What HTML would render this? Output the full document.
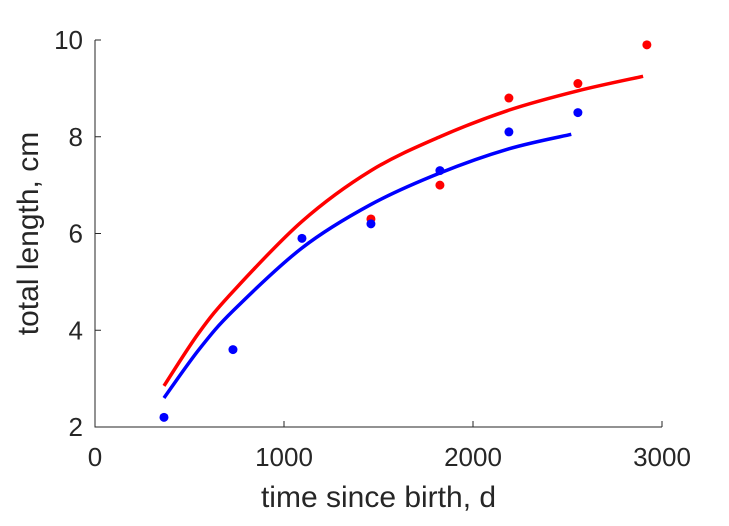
<!DOCTYPE html>
<html><head><meta charset="utf-8"><style>
body{margin:0;background:#fff;}
svg text{font-family:"Liberation Sans",sans-serif;fill:#262626;}
</style></head><body>
<svg id="chart" width="729" height="521" viewBox="0 0 729 521" xmlns="http://www.w3.org/2000/svg"></svg>
<script>
const xTicks=[0,1000,2000,3000];
const yTicks=[2,4,6,8,10];
const redPtsX=[1460,1825,2190,2555,2920];
const redPtsY=[6.3,7.0,8.8,9.1,9.9];
const bluePtsX=[365,730,1095,1460,1825,2190,2555];
const bluePtsY=[2.2,3.6,5.9,6.2,7.3,8.1,8.5];
const redCurveX=[365,550,730,1095,1460,1825,2190,2555,2900];
const redCurveY=[2.85,3.95,4.8,6.25,7.3,8.0,8.55,8.95,9.25];
const blueCurveX=[365,550,730,1095,1460,1825,2190,2520];
const blueCurveY=[2.6,3.6,4.4,5.7,6.6,7.25,7.75,8.05];

const NS="http://www.w3.org/2000/svg";
const svg=document.getElementById('chart');
const X0=95,X1=662,Y0=427,Y1=40;
const sx=v=>X0+(v-0)/3000*(X1-X0);
const sy=v=>Y0-(v-2)/8*(Y0-Y1);
function mk(t,a){const e=document.createElementNS(NS,t);for(const k in a)e.setAttribute(k,a[k]);svg.appendChild(e);return e;}

const ax=mk('path',{d:`M${X0},${Y1}V${Y0}H${X1}`,stroke:'#262626','stroke-width':1,fill:'none'});


xTicks.forEach(t=>{
  const l=mk('line',{x1:sx(t),x2:sx(t),y1:Y0,y2:Y0-6,stroke:'#262626'});
  
  
  const tx=mk('text',{x:sx(t),y:Y0+39,'text-anchor':'middle','font-size':26});
  tx.textContent=t;
  
  
});
yTicks.forEach(t=>{
  const l=mk('line',{x1:X0,x2:X0+6,y1:sy(t),y2:sy(t),stroke:'#262626'});
  
  
  const tx=mk('text',{x:X0-12,y:sy(t)+9,'text-anchor':'end','font-size':26});
  tx.textContent=t;
  
  
});
const xl=mk('text',{x:(X0+X1)/2,y:507,'text-anchor':'middle','font-size':30});
xl.textContent='time since birth, d';


const yl=mk('text',{x:0,y:0,'text-anchor':'middle','font-size':30,transform:`translate(38,${(Y0+Y1)/2}) rotate(-90)`});
yl.textContent='total length, cm';



function smooth(xs,ys){
  const p=xs.map((x,i)=>[sx(x),sy(ys[i])]);
  let d=`M${p[0][0]},${p[0][1]}`;
  for(let i=0;i<p.length-1;i++){
    const p0=p[Math.max(0,i-1)],p1=p[i],p2=p[i+1],p3=p[Math.min(p.length-1,i+2)];
    d+=`C${p1[0]+(p2[0]-p0[0])/6},${p1[1]+(p2[1]-p0[1])/6} ${p2[0]-(p3[0]-p1[0])/6},${p2[1]-(p3[1]-p1[1])/6} ${p2[0]},${p2[1]}`;
  }
  return d;
}
const rc=mk('path',{d:smooth(redCurveX,redCurveY),stroke:'#ff0000','stroke-width':3.5,fill:'none'});


const bc=mk('path',{d:smooth(blueCurveX,blueCurveY),stroke:'#0000ff','stroke-width':3.5,fill:'none'});


redPtsX.forEach((x,i)=>{
  const c=mk('circle',{cx:sx(x),cy:sy(redPtsY[i]),r:4.5,fill:'#ff0000'});
  
  
});
bluePtsX.forEach((x,i)=>{
  const c=mk('circle',{cx:sx(x),cy:sy(bluePtsY[i]),r:4.5,fill:'#0000ff'});
  
  
});
</script>
</body></html>
